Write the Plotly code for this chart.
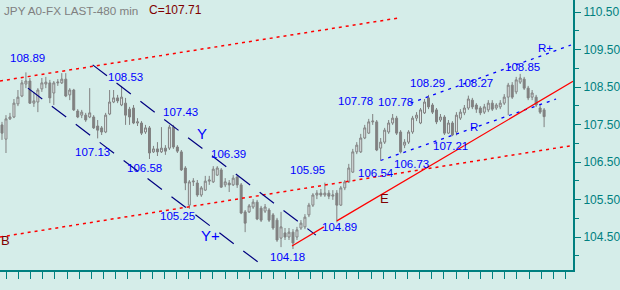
import plotly.graph_objects as go

# ---------------- data (8-hour candles, JPY) ----------------
OPEN = [107.49,107.11,107.65,107.70,108.05,108.26,108.58,108.66,108.07,108.10,
        108.45,108.58,108.61,108.34,108.61,108.61,108.71,108.29,108.42,107.86,
        107.75,107.75,107.70,107.70,107.46,107.41,107.30,107.78,108.10,108.21,
        108.02,108.07,107.91,107.94,107.54,107.54,107.30,107.41,106.77,106.85,
        106.77,106.87,106.87,107.43,106.90,106.77,106.34,105.35,105.97,105.94,
        105.62,105.75,105.99,105.97,106.15,106.29,105.89,105.94,105.89,106.10,
        105.89,105.17,105.17,105.30,105.43,105.27,105.19,105.22,105.09,104.95,
        104.47,104.61,104.50,104.63,104.50,104.74,104.77,105.09,105.35,105.62,
        105.67,105.62,105.67,105.59,105.67,105.35,105.81,105.97,106.23,106.77,
        106.77,107.14,107.27,107.57,107.57,106.87,107.03,107.30,107.54,107.67,
        107.30,106.95,107.03,107.30,107.67,107.54,107.81,108.21,108.02,107.89,
        107.62,107.70,107.27,107.54,107.30,107.67,107.81,107.94,108.15,108.02,
        107.94,107.83,107.89,108.07,107.94,107.97,108.07,108.23,108.55,108.37,
        108.63,108.71,108.47,108.23,108.23,107.94,107.89]
HIGH = [107.57,107.75,107.81,108.18,108.42,108.69,108.89,108.74,108.37,108.47,
        108.74,108.77,108.69,108.66,108.71,108.87,108.87,108.47,108.45,107.91,
        107.89,107.81,108.47,107.75,107.62,107.46,107.81,108.42,108.42,108.29,
        108.53,108.21,107.97,108.02,107.67,107.59,107.49,107.46,106.93,107.03,
        107.43,106.95,107.49,107.49,106.95,106.82,106.39,106.02,106.07,106.02,
        105.86,106.13,106.13,106.39,106.39,106.34,106.07,106.02,106.15,106.15,
        105.94,105.22,105.38,105.51,105.49,105.33,105.38,105.27,105.14,105.01,
        105.17,104.74,104.74,104.71,104.77,104.95,105.11,105.41,105.67,105.75,
        105.78,105.95,105.75,105.75,105.75,105.86,106.02,106.45,106.85,107.03,
        107.25,107.49,107.65,107.78,107.62,107.14,107.41,107.62,107.78,107.73,
        107.35,107.11,107.35,107.73,107.83,107.94,108.18,108.29,108.07,107.94,
        107.78,107.75,107.62,107.59,107.83,107.91,108.02,108.27,108.21,108.07,
        107.99,108.05,108.15,108.15,108.07,108.15,108.31,108.61,108.63,108.77,
        108.85,108.77,108.53,108.42,108.29,108.02,107.94]
LOW = [107.09,106.74,107.62,107.67,107.99,108.23,108.47,108.05,107.97,107.83,
       108.37,108.47,108.07,108.02,108.53,108.58,108.23,108.15,107.86,107.67,
       107.67,107.57,107.67,107.38,107.13,107.22,107.27,107.75,108.07,108.07,
       107.99,107.49,107.49,107.51,107.46,107.22,107.25,106.58,106.74,106.66,
       106.74,106.69,106.82,106.85,106.74,106.26,105.75,105.25,105.86,105.57,
       105.57,105.73,105.89,105.94,106.13,105.81,105.83,105.70,105.86,105.81,
       105.11,104.63,105.14,105.25,104.95,104.90,105.14,104.90,104.69,104.37,
       104.23,104.42,104.42,104.18,104.42,104.69,104.71,105.03,105.30,105.51,
       105.57,105.57,105.51,105.49,104.89,105.33,105.75,105.94,106.21,106.71,
       106.74,107.11,107.25,107.49,106.79,106.54,106.98,107.25,107.49,107.22,
       106.73,106.87,106.98,107.25,107.59,107.51,107.78,107.91,107.78,107.51,
       107.57,107.22,107.25,107.19,107.21,107.62,107.75,107.89,107.91,107.81,
       107.75,107.78,107.83,107.86,107.89,107.91,108.02,107.75,108.18,108.31,
       108.58,108.42,108.15,108.15,107.97,107.78,107.43]
CLOSE = [107.27,107.65,107.70,108.07,108.23,108.61,108.66,108.07,108.13,108.42,
         108.61,108.63,108.21,108.61,108.63,108.71,108.26,108.42,107.89,107.70,
         107.83,107.62,107.81,107.41,107.35,107.30,107.75,108.10,108.21,108.13,
         108.23,107.75,107.70,107.54,107.57,107.27,107.41,106.74,106.85,106.77,
         106.87,106.79,107.43,106.90,106.79,106.29,105.94,105.97,105.99,105.62,
         105.81,105.99,106.02,106.31,106.34,105.83,105.97,105.89,106.07,105.89,
         105.14,104.87,105.33,105.43,104.98,104.95,105.30,104.95,104.74,104.42,
         104.77,104.50,104.63,104.34,104.69,104.87,105.03,105.35,105.62,105.67,
         105.62,105.67,105.59,105.62,105.35,105.81,105.97,106.34,106.77,106.95,
         107.14,107.41,107.57,107.59,106.82,107.03,107.35,107.54,107.67,107.27,
         106.77,107.03,107.30,107.67,107.75,107.89,108.10,107.97,107.83,107.57,
         107.70,107.27,107.54,107.22,107.75,107.83,107.94,108.18,107.97,107.91,
         107.81,107.97,108.07,107.91,108.02,108.07,108.23,108.55,108.23,108.69,
         108.74,108.47,108.21,108.34,108.02,107.83,107.71]
BAR_INDEX = list(range(len(CLOSE)))

Y_TICKS = [104.5, 105.5, 106.5, 107.5, 108.5, 109.5, 110.5]
Y_TICK_TEXT = ["104.50", "105.50", "106.50", "107.50", "108.50", "109.50", "110.50"]

# trend lines: (bar index, price) endpoints
RED_UPPER_X, RED_UPPER_Y = [-0.5, 99.5], [108.66, 110.34]
RED_LOWER_X, RED_LOWER_Y = [-0.5, 142.5], [104.50, 106.93]
NAVY_Y_X, NAVY_Y_Y = [22.75, 78.75], [109.09, 104.55]
NAVY_YP_X, NAVY_YP_Y = [6.5, 65.25], [108.47, 103.75]
BLUE_RP_X, BLUE_RP_Y = [102.5, 142.75], [108.07, 109.62]
BLUE_R_X, BLUE_R_Y = [95.0, 139.0], [106.54, 108.18]
RED_E_X, RED_E_Y = [84.0, 143.25], [104.93, 108.65]
RED_E2_X, RED_E2_Y = [72.75, 80.75], [104.26, 104.77]

# labels: text, bar index, price, size, colour
LABEL_TEXT = ["108.89", "108.53", "107.43", "106.39", "107.13", "106.58", "105.25",
              "104.18", "105.95", "104.89", "107.78", "106.54", "107.78", "108.29",
              "108.27", "108.85", "106.73", "107.21", "R", "R+", "Y", "Y+", "E", "B"]
LABEL_X = [6.5, 31.0, 44.75, 56.75, 22.75, 35.75, 44.0,
           71.75, 76.75, 84.75, 88.75, 93.75, 98.75, 106.75,
           118.75, 130.5, 102.75, 112.5, 118.5, 136.25, 50.25, 52.25, 96.0, 0.9]
LABEL_Y = [109.27, 108.77, 107.83, 106.71, 106.77, 106.34, 105.06,
           103.97, 106.29, 104.77, 108.13, 106.21, 108.10, 108.61,
           108.61, 109.03, 106.45, 106.93, 107.43, 109.54, 107.25, 104.53, 105.54, 104.42]
LABEL_SIZE = [11.5]*18 + [11.5, 11.5, 15, 15, 13, 13]
LABEL_COLOR = ["#0000ff"]*22 + ["#800000", "#800000"]

BG = "#d5ede9"
TEAL = "#008080"
FONT = "Liberation Sans, Arial, sans-serif"

fig = go.Figure()
fig.add_trace(go.Candlestick(
    x=BAR_INDEX, open=OPEN, high=HIGH, low=LOW, close=CLOSE,
    increasing=dict(line=dict(color="#808080", width=1), fillcolor="#e6eeee"),
    decreasing=dict(line=dict(color="#808080", width=1), fillcolor="#808080"),
    whiskerwidth=0, hoverinfo="skip", showlegend=False))


def add_line(xs, ys, color, width, dash):
    fig.add_trace(go.Scatter(x=xs, y=ys, mode="lines",
                             line=dict(color=color, width=width, dash=dash),
                             hoverinfo="skip", showlegend=False))


add_line(RED_UPPER_X, RED_UPPER_Y, "#ff0000", 1.5, "3px,4px")
add_line(RED_LOWER_X, RED_LOWER_Y, "#ff0000", 1.5, "3px,4px")
add_line(NAVY_Y_X, NAVY_Y_Y, "#000080", 1.2, "18px,12px")
add_line(NAVY_YP_X, NAVY_YP_Y, "#000080", 1.2, "18px,12px")
add_line(BLUE_RP_X, BLUE_RP_Y, "#0000ff", 1.3, "3px,5px")
add_line(BLUE_R_X, BLUE_R_Y, "#0000ff", 1.3, "3px,5px")
add_line(RED_E_X, RED_E_Y, "#ff0000", 1.2, "solid")
add_line(RED_E2_X, RED_E2_Y, "#ff0000", 1.2, "solid")

annotations = []
for t, x, y, s, c in zip(LABEL_TEXT, LABEL_X, LABEL_Y, LABEL_SIZE, LABEL_COLOR):
    annotations.append(dict(x=x, y=y, xref="x", yref="y", text=t, showarrow=False,
                            xanchor="center", yanchor="middle",
                            font=dict(family=FONT, size=s, color=c)))
annotations.append(dict(x=2/575, y=1 - 10.5/270, xref="paper", yref="paper",
                        text="JPY A0-FX LAST-480 min", showarrow=False,
                        xanchor="left", yanchor="middle",
                        font=dict(family=FONT, size=11.7, color="#808080")))
annotations.append(dict(x=148/575, y=1 - 10.5/270, xref="paper", yref="paper",
                        text="C=107.71", showarrow=False,
                        xanchor="left", yanchor="middle",
                        font=dict(family=FONT, size=12, color="#800000")))

fig.update_layout(
    width=620, height=290,
    margin=dict(l=0, r=45, t=0, b=20),
    paper_bgcolor=BG, plot_bgcolor=BG,
    showlegend=False,
    annotations=annotations,
    xaxis=dict(range=[-0.5, 143.25], rangeslider=dict(visible=False),
               showgrid=False, zeroline=False, showticklabels=False,
               showline=True, linecolor=TEAL, linewidth=2,
               ticks="outside", ticklen=7, tickcolor=TEAL, tickwidth=1,
               tick0=1.08, dtick=3.05, fixedrange=True),
    yaxis=dict(range=[103.62, 110.82], side="right",
               showgrid=False, zeroline=False,
               showline=True, linecolor=TEAL, linewidth=2,
               tickvals=Y_TICKS, ticktext=Y_TICK_TEXT,
               ticks="outside", ticklen=6, tickcolor=TEAL, tickwidth=1,
               tickfont=dict(family=FONT, size=12, color=TEAL),
               minor=dict(tickvals=[104.0, 105.0, 106.0, 107.0, 108.0, 109.0, 110.0],
                          ticks="outside", ticklen=4, tickcolor=TEAL),
               fixedrange=True),
)

fig.write_html("out.html")
